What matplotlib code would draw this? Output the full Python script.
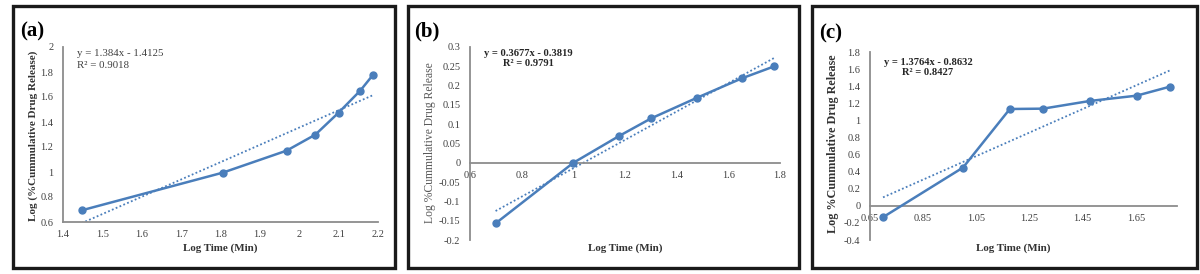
import numpy as np
import matplotlib
matplotlib.use("Agg")
from matplotlib import pyplot as plt
from matplotlib.patches import Rectangle

plt.rcParams["font.family"] = ["Liberation Serif", "DejaVu Serif"]

# data
time_a = [1.447, 1.806, 1.968, 2.041, 2.100, 2.155, 2.187]
release_a = [0.693, 0.995, 1.171, 1.299, 1.475, 1.651, 1.776]
time_bc = [0.699, 1.000, 1.176, 1.301, 1.477, 1.653, 1.778]
release_b = [-0.157, 0.0, 0.069, 0.115, 0.168, 0.219, 0.250]
release_c = [-0.133, 0.448, 1.133, 1.137, 1.227, 1.289, 1.394]
fit_a = (1.384, -1.4125)
fit_b = (0.3677, -0.3819)
fit_c = (1.3764, -0.8632)
r2_a, r2_b, r2_c = 0.9018, 0.9791, 0.8427

W, H = 1200, 274
BLUE = "#4a7ebb"
AXCOL = "#8c8c8c"
TXT = "#404040"

fig = plt.figure(figsize=(W / 100, H / 100), dpi=100)


def box(x0, y0, x1, y1):
    return [x0 / W, 1 - y1 / H, (x1 - x0) / W, (y1 - y0) / H]


def pt(x, y):
    return x / W, 1 - y / H


def frame(x0, y0, x1, y1):
    fig.patches.append(Rectangle((x0 / W, 1 - y1 / H), (x1 - x0) / W, (y1 - y0) / H,
                                 transform=fig.transFigure, fill=False,
                                 edgecolor="#1a1a1a", linewidth=2.4))


def fmt(t):
    return f"{t + 0.0:g}" if abs(t) > 1e-9 else "0"


def panel(rect, x, y, fit, xlim, ylim, xticks, yticks, zero_axis):
    ax = fig.add_axes(box(*rect))
    ax.plot(x, y, color=BLUE, linewidth=1.8, marker="o", markersize=5, zorder=3)
    xs = np.array([x[0], x[-1]])
    ax.plot(xs, fit[0] * xs + fit[1], color=BLUE, linewidth=1.3, linestyle=(0, (1, 1.3)), zorder=2)
    ax.set_xlim(*xlim)
    ax.set_ylim(*ylim)
    ax.set_xticks(xticks)
    ax.set_yticks(yticks)
    ax.set_xticklabels([fmt(t) for t in xticks])
    ax.set_yticklabels([fmt(t) for t in yticks])
    for s in ["top", "right"]:
        ax.spines[s].set_visible(False)
    for s in ["left", "bottom"]:
        ax.spines[s].set_color(AXCOL)
        ax.spines[s].set_linewidth(1.3)
    if zero_axis:
        ax.spines["bottom"].set_position(("data", 0))
    ax.tick_params(length=0, labelsize=7.5, labelcolor=TXT, pad=7)
    ax.tick_params(axis="x", pad=6)
    ax.patch.set_alpha(0)
    return ax


# frames
frame(12.5, 6, 394.5, 268)
frame(407.5, 6, 798.5, 268)
frame(811.5, 6, 1196.5, 268)

# (a)
panel((63, 47, 378, 222), time_a, release_a, fit_a, (1.4, 2.2), (0.6, 2.0),
      np.round(np.arange(1.4, 2.21, 0.1), 1), np.round(np.arange(0.6, 2.01, 0.2), 1), False)
# (b)
panel((470, 47, 780, 240), time_bc, release_b, fit_b, (0.6, 1.8), (-0.2, 0.3),
      np.round(np.arange(0.6, 1.81, 0.2), 1), np.round(np.arange(-0.2, 0.301, 0.05), 2), True)
# (c)
panel((870, 52, 1177, 240), time_bc, release_c, fit_c, (0.65, 1.805), (-0.4, 1.8),
      np.round(np.arange(0.65, 1.66, 0.2), 2), np.round(np.arange(-0.4, 1.81, 0.2), 1), True)

# panel letters
for lab, x, y in [("(a)", 20, 31), ("(b)", 414, 31), ("(c)", 819, 33)]:
    fig.text(*pt(x, y), lab, fontsize=15, fontweight="bold", va="center", ha="left")

# equations
fig.text(*pt(77, 54), f"y = {fit_a[0]}x - {abs(fit_a[1])}", fontsize=7.8, va="center", ha="left", color=TXT)
fig.text(*pt(77, 66), f"R² = {r2_a}", fontsize=7.8, va="center", ha="left", color=TXT)
fig.text(*pt(528, 58.5), f"y = {fit_b[0]}x - {abs(fit_b[1])}\nR² = {r2_b}", fontsize=7.6,
         fontweight="bold", va="center", ha="center", linespacing=1.05, color="#262626")
fig.text(*pt(928, 67.5), f"y = {fit_c[0]}x - {abs(fit_c[1])}\nR² = {r2_c}", fontsize=7.6,
         fontweight="bold", va="center", ha="center", linespacing=1.2, color="#262626")

# axis titles
for x in (220, 625, 1013):
    fig.text(*pt(x, 248), "Log Time (Min)", fontsize=7.9, fontweight="bold", ha="center", va="center", color="#333333")
fig.text(*pt(33, 136), "Log (%Cummulative Drug Release)", fontsize=8, fontweight="bold",
         rotation=90, ha="center", va="center", color="#333333")
fig.text(*pt(430, 143), "Log %Cummulative Drug Release", fontsize=8.4,
         rotation=90, ha="center", va="center", color="#595959")
fig.text(*pt(833, 144), "Log %Cummulative Drug Release", fontsize=8.7, fontweight="bold",
         rotation=90, ha="center", va="center", color="#333333")

fig.savefig("out.png", dpi=100)
